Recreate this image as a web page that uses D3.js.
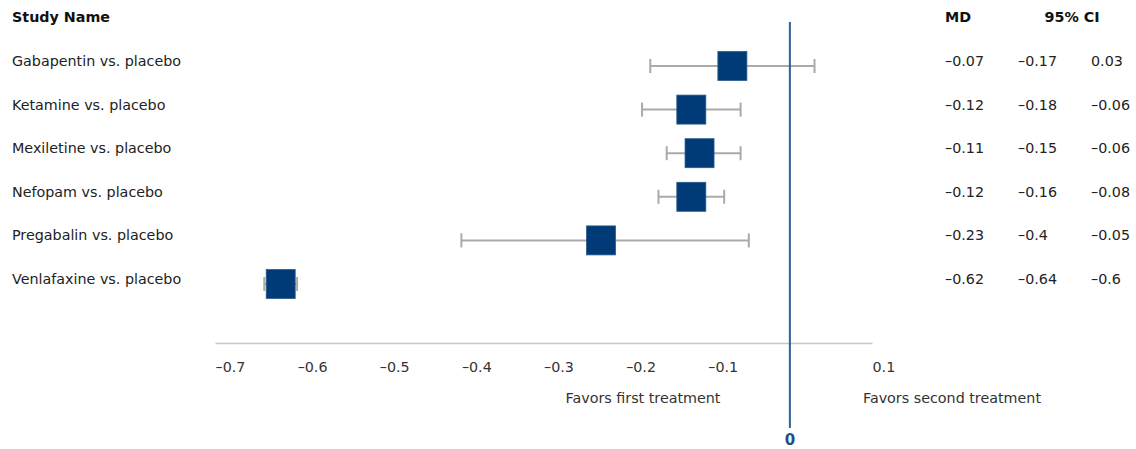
<!DOCTYPE html>
<html>
<head>
<meta charset="utf-8">
<script src="https://cdn.jsdelivr.net/npm/d3@7"></script>
<style>
  html, body { margin: 0; padding: 0; background: #fff; }
  svg { display: block; font-family: "DejaVu Sans", "Lucida Grande", sans-serif; }
</style>
</head>
<body>
<svg id="chart" width="1136" height="449"></svg>
<script>
// ---- data ----
const studies = ["Gabapentin vs. placebo", "Ketamine vs. placebo", "Mexiletine vs. placebo",
                 "Nefopam vs. placebo", "Pregabalin vs. placebo", "Venlafaxine vs. placebo"];
const md      = [-0.07, -0.12, -0.11, -0.12, -0.23, -0.62];
const ciLow   = [-0.17, -0.18, -0.15, -0.16, -0.40, -0.64];
const ciHigh  = [ 0.03, -0.06, -0.06, -0.08, -0.05, -0.60];
const tickValues = [-0.7, -0.6, -0.5, -0.4, -0.3, -0.2, -0.1, 0.1];
const headers = { study: "Study Name", md: "MD", ci: "95% CI" };
const favorsLeft = "Favors first treatment";
const favorsRight = "Favors second treatment";

// ---- layout ----
const svg = d3.select("#chart");
const x = d3.scaleLinear().domain([-0.7, 0.1]).range([215, 872]);
const y = d3.scalePoint().domain(studies).range([66, 284]);
const textShift = -5;
const fs = 14.3;
const axisY = 343;
const fmt = v => {
  const s = String(+v.toFixed(2));
  return s.startsWith("-") ? "\u2013" + s.slice(1) : s;
};
const rows = studies.map((s, i) => ({ s, md: md[i], lo: ciLow[i], hi: ciHigh[i] }));

// headers
svg.append("text").attr("x", 12).attr("y", 17).attr("dy", "0.35em")
  .attr("font-size", fs).attr("font-weight", "bold").attr("fill", "#111").text(headers.study);
svg.append("text").attr("x", 945).attr("y", 17).attr("dy", "0.35em")
  .attr("font-size", fs).attr("font-weight", "bold").attr("fill", "#111").text(headers.md);
svg.append("text").attr("x", 1072).attr("y", 17).attr("dy", "0.35em").attr("text-anchor", "middle")
  .attr("font-size", fs).attr("font-weight", "bold").attr("fill", "#111").text(headers.ci);

// study names
svg.append("g").selectAll("text").data(rows).join("text")
  .attr("x", 12).attr("y", d => y(d.s) + textShift).attr("dy", "0.35em")
  .attr("font-size", fs).attr("fill", "#222").text(d => d.s);

// value columns
const cols = [{ k: "md", x: 945 }, { k: "lo", x: 1018 }, { k: "hi", x: 1091 }];
cols.forEach(c => {
  svg.append("g").selectAll("text").data(rows).join("text")
    .attr("x", c.x).attr("y", d => y(d.s) + textShift).attr("dy", "0.35em")
    .attr("font-size", fs).attr("fill", "#222").text(d => fmt(d[c.k]));
});

// axis
const axis = d3.axisBottom(x).tickValues(tickValues).tickSize(0).tickPadding(19)
  .tickFormat(fmt);
const ag = svg.append("g").attr("transform", `translate(0,${axisY})`).call(axis);
ag.select(".domain").attr("stroke", "#c8c8c8").attr("stroke-width", 1.5);
ag.selectAll(".tick text").attr("text-anchor", "start").attr("font-size", fs)
  .attr("fill", "#333").attr("font-family", "DejaVu Sans, sans-serif");

// favors labels
svg.append("text").attr("x", 643).attr("y", 398).attr("dy", "0.35em").attr("text-anchor", "middle")
  .attr("font-size", fs).attr("fill", "#333").text(favorsLeft);
svg.append("text").attr("x", 952).attr("y", 398).attr("dy", "0.35em").attr("text-anchor", "middle")
  .attr("font-size", fs).attr("fill", "#333").text(favorsRight);

// CI lines
const ci = svg.append("g").attr("stroke", "#aaaaaa").attr("stroke-width", 2);
ci.selectAll("line.ci").data(rows).join("line").attr("class", "ci")
  .attr("x1", d => x(d.lo)).attr("x2", d => x(d.hi))
  .attr("y1", d => y(d.s)).attr("y2", d => y(d.s));
ci.selectAll("line.capl").data(rows).join("line").attr("class", "capl")
  .attr("x1", d => x(d.lo)).attr("x2", d => x(d.lo))
  .attr("y1", d => y(d.s) - 7).attr("y2", d => y(d.s) + 7);
ci.selectAll("line.caph").data(rows).join("line").attr("class", "caph")
  .attr("x1", d => x(d.hi)).attr("x2", d => x(d.hi))
  .attr("y1", d => y(d.s) - 7).attr("y2", d => y(d.s) + 7);

// zero line
svg.append("line").attr("x1", x(0)).attr("x2", x(0)).attr("y1", 22).attr("y2", 428)
  .attr("stroke", "#2f6294").attr("stroke-width", 2);
svg.append("text").attr("x", x(0)).attr("y", 440).attr("dy", "0.35em").attr("text-anchor", "middle")
  .attr("font-size", 15).attr("font-weight", "bold").attr("fill", "#1f4f80").text("0");

// squares
const sz = 29;
svg.append("g").selectAll("rect").data(rows).join("rect")
  .attr("x", d => x(d.md) - sz / 2).attr("y", d => y(d.s) - sz / 2)
  .attr("width", sz).attr("height", sz)
  .attr("fill", "#013b77").attr("stroke", "#2a5a8c").attr("stroke-width", 0.8);
</script>
</body>
</html>
